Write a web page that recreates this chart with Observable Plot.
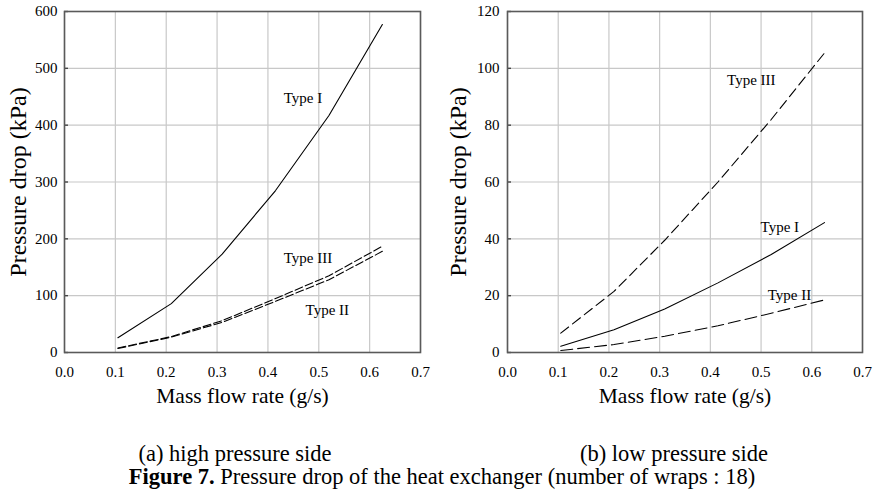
<!DOCTYPE html>
<html>
<head>
<meta charset="utf-8">
<script src="https://cdn.jsdelivr.net/npm/d3@7"></script>
<script src="https://cdn.jsdelivr.net/npm/@observablehq/plot@0.6"></script>
<style>
  html, body { margin: 0; padding: 0; background: #fff; }
  #wrap { position: relative; width: 874px; height: 494px; font-family: "Liberation Serif", "Times New Roman", serif; color: #000; }
  #left { position: absolute; left: 0; top: 0; }
  #right { position: absolute; left: 437px; top: 0; }
  .cap { position: absolute; font-size: 22.5px; line-height: 22px; white-space: nowrap; transform: translateX(-50%); }
</style>
</head>
<body>
<div id="wrap">
  <div id="left"></div>
  <div id="right"></div>
  <div class="cap" style="left:235px; top:443px;">(a) high pressure side</div>
  <div class="cap" style="left:674px; top:443px;">(b) low pressure side</div>
  <div class="cap" style="left:442px; top:466px;"><b>Figure 7.</b> Pressure drop of the heat exchanger (number of wraps : 18)</div>
</div>
<script>
// Mass flow rate (g/s)
const massFlow = [0.105, 0.21, 0.31, 0.415, 0.52, 0.625];

// (a) high pressure side, pressure drop (kPa)
const highTypeI   = [26, 86, 173, 285, 417, 577];
const highTypeII  = [7, 27, 53, 90, 128, 178];
const highTypeIII = [8, 28, 56, 95, 135, 187];

// (b) low pressure side, pressure drop (kPa)
const lowTypeI   = [2.2, 8, 15.3, 24.5, 34.5, 45.7];
const lowTypeII  = [0.7, 2.8, 5.7, 9.4, 13.8, 18.5];
const lowTypeIII = [6.8, 21.5, 39.5, 60, 82, 105.4];

// tick labels
const xTicks = [0, 0.1, 0.2, 0.3, 0.4, 0.5, 0.6, 0.7];
const yTicksHigh = [0, 100, 200, 300, 400, 500, 600];
const yTicksLow = [0, 20, 40, 60, 80, 100, 120];

// series label positions
const labelNames = ["Type I", "Type II", "Type III"];
const highLabelX = [0.431, 0.474, 0.431];
const highLabelY = [447, 74, 166];
const lowLabelX = [0.499, 0.513, 0.433];
const lowLabelY = [44, 20, 96];

const xTitle = "Mass flow rate (g/s)";
const yTitle = "Pressure drop (kPa)";

function series(vals) { return massFlow.map((x, i) => ({x, y: vals[i]})); }

function panel({I, II, III, dashII, dashIII, yTicks, lx, ly, ml, mr, ytDx, ytPad}) {
  const labels = labelNames.map((t, i) => ({t, x: lx[i], y: ly[i]}));
  return Plot.plot({
    width: 437, height: 412,
    marginLeft: ml, marginRight: mr, marginTop: 11, marginBottom: 60,
    style: {fontFamily: "Liberation Serif", fontSize: "15px", color: "#000", background: "#fff", overflow: "visible"},
    x: {domain: [0, 0.7]},
    y: {domain: [0, yTicks[yTicks.length - 1]]},
    marks: [
      Plot.gridX(xTicks, {stroke: "#c8c8c8", strokeOpacity: 1, strokeWidth: 1.2}),
      Plot.gridY(yTicks, {stroke: "#c8c8c8", strokeOpacity: 1, strokeWidth: 1.2}),
      Plot.axisX(xTicks, {tickSize: 0, tickPadding: 14, tickFormat: d3.format(".1f"), label: null, fontSize: 15}),
      Plot.axisY(yTicks, {tickSize: 0, tickPadding: ytPad, label: null, fontSize: 15}),
      Plot.axisY(yTicks, {tickSize: -4, tickFormat: () => "", label: null, stroke: "#444", strokeWidth: 1.4}),
      Plot.line(series(I), {x: "x", y: "y", stroke: "#000", strokeWidth: 1.1}),
      Plot.line(series(II), {x: "x", y: "y", stroke: "#000", strokeWidth: 1.1, strokeDasharray: dashII}),
      Plot.line(series(III), {x: "x", y: "y", stroke: "#000", strokeWidth: 1.1, strokeDasharray: dashIII}),
      Plot.text(labels, {x: "x", y: "y", text: "t", textAnchor: "start", fontSize: 15, fill: "#000"}),
      Plot.frame({stroke: "#5a5a5a", strokeWidth: 1.6}),
      Plot.text([xTitle], {text: d => d, frameAnchor: "bottom", textAnchor: "middle", lineAnchor: "middle", dy: 44, fontSize: 21.5, fill: "#000"}),
      Plot.text([yTitle], {text: d => d, frameAnchor: "left", textAnchor: "middle", lineAnchor: "middle", rotate: -90, dx: ytDx, fontSize: 24, fill: "#000"})
    ]
  });
}

document.getElementById("left").append(panel({
  I: highTypeI, II: highTypeII, III: highTypeIII,
  dashII: "8,3", dashIII: "8,3",
  yTicks: yTicksHigh, lx: highLabelX, ly: highLabelY,
  ml: 64, mr: 17, ytDx: -46, ytPad: 7
}));
document.getElementById("right").append(panel({
  I: lowTypeI, II: lowTypeII, III: lowTypeIII,
  dashII: "12,5", dashIII: "10,5",
  yTicks: yTicksLow, lx: lowLabelX, ly: lowLabelY,
  ml: 70, mr: 12, ytDx: -49, ytPad: 8
}));
</script>
</body>
</html>
